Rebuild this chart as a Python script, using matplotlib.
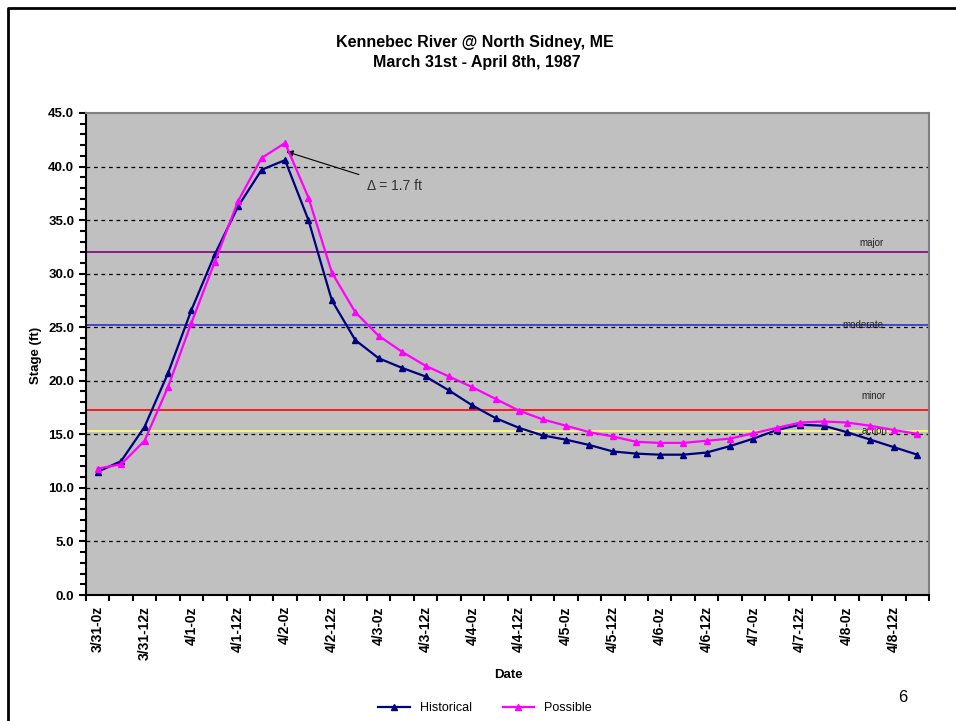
import matplotlib
matplotlib.use('Agg')
import matplotlib.pyplot as plt
from matplotlib.lines import Line2D
import matplotlib.transforms as mtransforms

# 6-hourly categories, 3/31-0z .. 4/8-18z
days = ['3/31', '4/1', '4/2', '4/3', '4/4', '4/5', '4/6', '4/7', '4/8']
hours = ['0z', '6z', '12z', '18z']
categories = [f'{d}-{h}' for d in days for h in hours]

historical = [11.5, 12.5, 15.7, 20.7, 26.6, 31.8, 36.3, 39.7, 40.6, 35.0,
              27.5, 23.8, 22.1, 21.2, 20.4, 19.1, 17.7, 16.5, 15.6, 14.9,
              14.5, 14.0, 13.4, 13.2, 13.1, 13.1, 13.3, 13.9, 14.6, 15.4,
              15.9, 15.8, 15.2, 14.5, 13.8, 13.1]
possible = [11.8, 12.2, 14.4, 19.4, 25.4, 31.1, 36.8, 40.8, 42.2, 37.1,
            30.1, 26.4, 24.2, 22.7, 21.4, 20.4, 19.4, 18.3, 17.2, 16.4,
            15.8, 15.2, 14.8, 14.3, 14.2, 14.2, 14.4, 14.6, 15.1, 15.6,
            16.1, 16.2, 16.1, 15.8, 15.4, 15.05]

flood_names = ['major', 'moderate', 'minor', 'action']
flood_levels = [32.0, 25.2, 17.3, 15.35]
flood_colors = ['#800080', '#3333cc', '#ff0000', '#ffff66']

W, H = 956, 721
fig = plt.figure(figsize=(W / 100, H / 100), dpi=100)
plt.rcParams['font.family'] = ['Liberation Sans', 'DejaVu Sans']

ax = fig.add_axes([86 / W, 1 - 595 / H, (929 - 86) / W, (595 - 113) / H])
ax.set_facecolor('#c0c0c0')

x = list(range(len(categories)))
ax.set_xlim(-0.5, len(categories) - 0.5)
ax.set_ylim(0, 45)

# gridlines
for g in range(5, 45, 5):
    ax.axhline(g, color='black', lw=0.9, ls=(0, (3, 3)), zorder=1)

# flood stage lines + labels
lab_tr = mtransforms.blended_transform_factory(ax.transAxes, ax.transData)
lab_off = [0.35, 0.0, 0.8, 0.0]
lab_x = [0.932, 0.922, 0.934, 0.936]
for name, lvl, c, dy, lx in zip(flood_names, flood_levels, flood_colors, lab_off, lab_x):
    ax.axhline(lvl, color=c, lw=1.2, zorder=2)
    ax.text(lx, lvl + dy, name, transform=lab_tr, fontsize=7, ha='center',
            va='bottom' if dy else 'center', color='#222222', zorder=3)

ax.plot(x, historical, color='#000080', lw=1.6, marker='^', ms=5, label='Historical', zorder=4)
ax.plot(x, possible, color='#ff00ff', lw=1.6, marker='^', ms=5, label='Possible', zorder=4)

ax.annotate('Δ = 1.7 ft', xy=(8.05, 41.4), xytext=(11.5, 38.2), fontsize=10,
            color='#333333', ha='left', va='center',
            arrowprops=dict(arrowstyle='-|>', color='black', lw=0.8,
                            shrinkA=4, shrinkB=0, mutation_scale=10))

# y axis
ax.set_yticks(range(0, 46, 5))
ax.set_yticklabels([f'{v:.1f}' for v in range(0, 46, 5)], fontsize=9.5, fontweight='bold')
ax.set_yticks(range(0, 46), minor=True)
ax.tick_params(axis='y', which='major', length=5, width=1.5, direction='out')
ax.tick_params(axis='y', which='minor', length=4, width=1.5, direction='out')

# x axis: tick marks at boundaries, labels every 12 hours at centers
ax.set_xticks([i - 0.5 for i in range(len(categories) + 1)])
ax.set_xticklabels([])
ax.tick_params(axis='x', which='major', length=4, width=1.5, direction='out')
ax.set_xticks(x[::2], minor=True)
ax.set_xticklabels(categories[::2], minor=True, rotation=90, fontsize=10,
                   fontweight='bold')
ax.tick_params(axis='x', which='minor', length=0, pad=8)

for s in ['left', 'bottom']:
    ax.spines[s].set_color('black')
    ax.spines[s].set_linewidth(1.5)
for s in ['top', 'right']:
    ax.spines[s].set_color('#808080')
    ax.spines[s].set_linewidth(1.5)

fig.text(475 / W, 1 - 43 / H, 'Kennebec River @ North Sidney, ME', ha='center',
         va='center', fontsize=11.5, fontweight='bold')
fig.text(477 / W, 1 - 63 / H, 'March 31st - April 8th, 1987', ha='center',
         va='center', fontsize=11.5, fontweight='bold')
fig.text(36 / W, 1 - 355 / H, 'Stage (ft)', rotation=90, ha='center', va='center',
         fontsize=9.5, fontweight='bold')
fig.text(508 / W, 1 - 675 / H, 'Date', ha='center', va='center', fontsize=9.5,
         fontweight='bold')
fig.text(903 / W, 1 - 698 / H, '6', ha='center', va='center', fontsize=12)

fig.legend(loc='center', bbox_to_anchor=(485 / W, 1 - 708 / H), ncol=2,
           frameon=False, fontsize=9, handlelength=2.5, columnspacing=2.5)

# slide frame
fig.add_artist(Line2D([8 / W, 8 / W, 1], [0, 1 - 8 / H, 1 - 8 / H],
                      transform=fig.transFigure, color='black', lw=2))

fig.savefig('out.png', dpi=100)
